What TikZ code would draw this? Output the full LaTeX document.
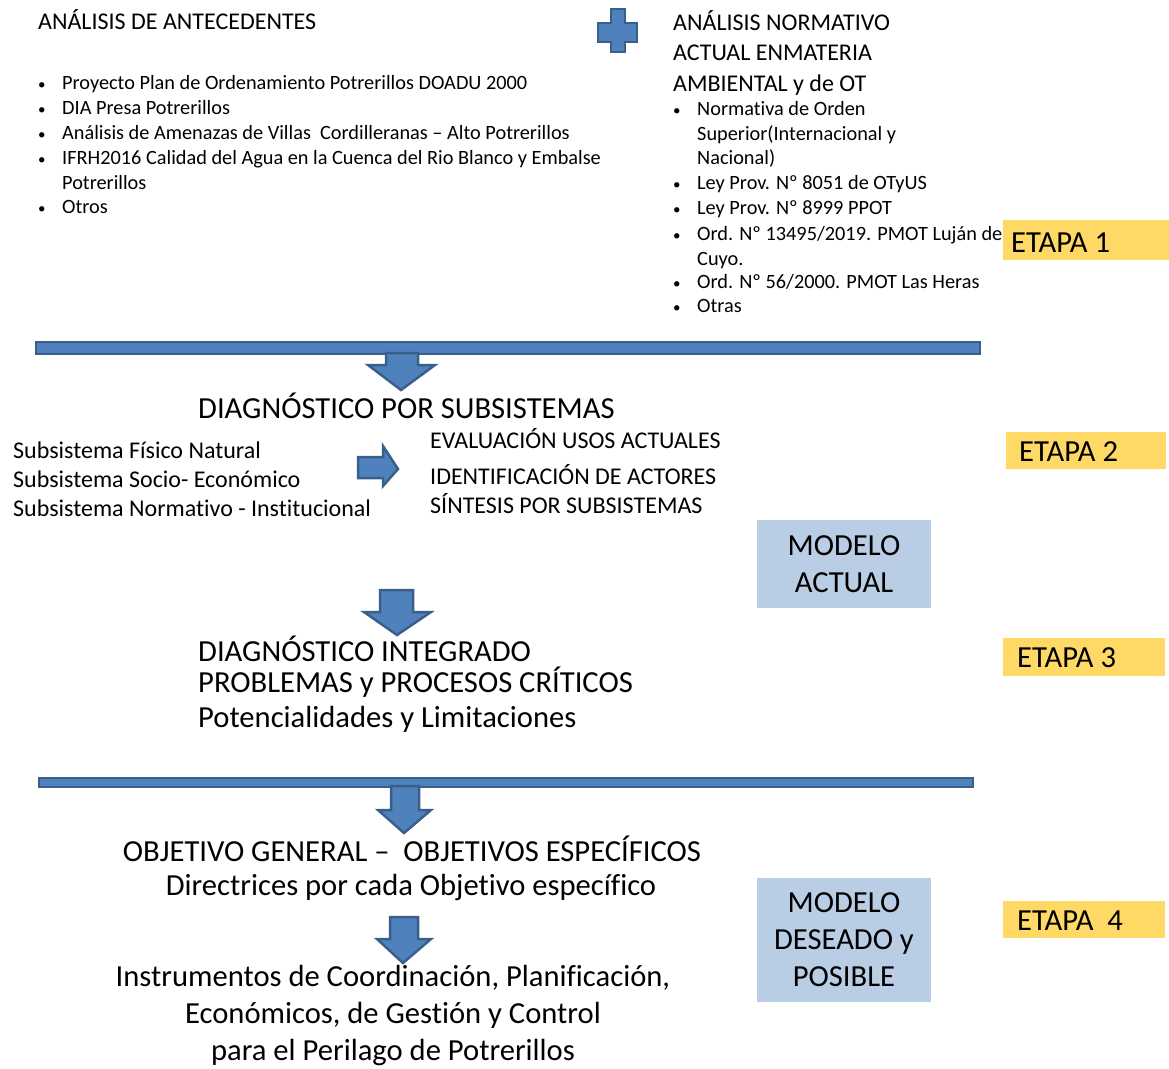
\documentclass[tikz,border=0pt]{standalone}
\usepackage{fontspec}
\setmainfont{Carlito}[Ligatures=NoCommon]
\definecolor{arrfill}{HTML}{4F81BD}
\definecolor{arrdraw}{HTML}{3A5F8B}
\definecolor{modfill}{HTML}{B9CDE5}
\definecolor{etfill}{HTML}{FFD966}
\begin{document}
\begin{tikzpicture}[x=1pt,y=-1pt,
  shp/.style={fill=arrfill,draw=arrdraw,line width=2.5pt,line join=miter},
  tx/.style={anchor=base west,inner sep=0pt,font=\fontsize{20.3}{22}\selectfont},
  bul/.style={anchor=base west,inner sep=0pt,font=\fontsize{15}{16}\selectfont},
  ttl/.style={anchor=base west,inner sep=0pt,font=\fontsize{24}{26}\selectfont},
  med/.style={anchor=base west,inner sep=0pt,font=\fontsize{24}{26}\selectfont},
  big/.style={anchor=base west,inner sep=0pt,font=\fontsize{30.6}{34}\selectfont},
  bigc/.style={anchor=base,inner sep=0pt,font=\fontsize{30.6}{34}\selectfont},
  etapa/.style={fill=etfill,draw=none},
  modelo/.style={fill=modfill,draw=none}]
\useasboundingbox (0,0) rectangle (1169,1068);
% ---------- ETAPA 1 left column
\node[ttl] (t1) at (38,29) {ANÁLISIS DE ANTECEDENTES};
\foreach \y/\t [count=\i] in {89/{Proyecto Plan de Ordenamiento Potrerillos DOADU 2000},
  114/{DIA Presa Potrerillos},
  139/{Análisis de Amenazas de Villas\ \ Cordilleranas – Alto Potrerillos},
  164/{IFRH2016 Calidad del Agua en la Cuenca del Rio Blanco y Embalse},
  213/{Otros}}{
  \node[bul] (lb\i) at (38,\y) {•};
  \node[tx] (l\i) at (62,\y) {\t};
}
\node[tx] (l4b) at (62,189) {Potrerillos};
% plus sign
\path[shp] (611,9) -- (625,9) -- (625,23) -- (637,23) -- (637,42) -- (625,42) -- (625,52)
  -- (611,52) -- (611,42) -- (598,42) -- (598,23) -- (611,23) -- cycle;
% right column
\node[ttl] (r1) at (673,30) {ANÁLISIS NORMATIVO};
\node[ttl] (r2) at (673,60) {ACTUAL ENMATERIA};
\node[ttl] (r3) at (673,91) {AMBIENTAL y de OT};
\foreach \y/\t [count=\i] in {115/{Normativa de Orden},
  189/{Ley Prov. Nº 8051 de OTyUS},
  214/{Ley Prov. Nº 8999 PPOT},
  240/{Ord. Nº 13495/2019. PMOT Luján de},
  288/{Ord. Nº 56/2000. PMOT Las Heras},
  312/{Otras}}{
  \node[bul] (rb\i) at (673,\y) {•};
  \node[tx] (rt\i) at (697,\y) {\t};
}
\node[tx] (rt1b) at (697,140) {Superior(Internacional y};
\node[tx] (rt1c) at (697,164) {Nacional)};
\node[tx] (rt4b) at (697,265) {Cuyo.};
\node[etapa,minimum width=166pt,minimum height=40pt,anchor=north west] (e1) at (1003,220) {};
\node[big,anchor=base west] (e1t) at (1011,252) {ETAPA 1};
% bar 1 and arrow
\path[shp] (36,342) rectangle (980,354);
\path[shp] (386,353) -- (418,353) -- (418,365) -- (435,365) -- (401,390) -- (368,365) -- (386,365) -- cycle;
% ---------- ETAPA 2
\node[big] (d1) at (198,418) {DIAGNÓSTICO POR SUBSISTEMAS};
\node[med] (s1) at (13,458) {Subsistema Físico Natural};
\node[med] (s2) at (13,487) {Subsistema Socio- Económico};
\node[med] (s3) at (13,516) {Subsistema Normativo - Institucional};
\path[shp] (358,457) -- (383,457) -- (383,446) -- (398,469) -- (383,486) -- (383,478) -- (358,478) -- cycle;
\node[med] (a1) at (430,448) {EVALUACIÓN USOS ACTUALES};
\node[med] (a2) at (430,484) {IDENTIFICACIÓN DE ACTORES};
\node[med] (a3) at (430,513) {SÍNTESIS POR SUBSISTEMAS};
\node[etapa,minimum width=160pt,minimum height=37pt,anchor=north west] (e2) at (1006,432) {};
\node[big] (e2t) at (1019,461) {ETAPA 2};
\node[modelo,minimum width=174pt,minimum height=88pt,anchor=north west] (m1) at (757,520) {};
\node[bigc] (m1a) at (844,555) {MODELO};
\node[bigc] (m1b) at (844,592) {ACTUAL};
% arrow 2
\path[shp] (380,590) -- (413,590) -- (413,612) -- (431,612) -- (397,635) -- (364,612) -- (380,612) -- cycle;
% ---------- ETAPA 3
\node[big] (g1) at (198,661) {DIAGNÓSTICO INTEGRADO};
\node[big] (g2) at (198,692) {PROBLEMAS y PROCESOS CRÍTICOS};
\node[big] (g3) at (198,727) {Potencialidades y Limitaciones};
\node[etapa,minimum width=162pt,minimum height=38pt,anchor=north west] (e3) at (1003,638) {};
\node[big] (e3t) at (1017,667) {ETAPA 3};
% bar 2 and arrow
\path[shp] (39,778) rectangle (973,787);
\path[shp] (391,786) -- (419,786) -- (419,810) -- (431,810) -- (404,833) -- (378,810) -- (391,810) -- cycle;
% ---------- ETAPA 4
\node[bigc] (o1) at (412,861) {OBJETIVO GENERAL –\ \ OBJETIVOS ESPECÍFICOS};
\node[bigc] (o2) at (411,895) {Directrices por cada Objetivo específico};
\path[shp] (390,917) -- (418,917) -- (418,939) -- (431,939) -- (403,963) -- (377,939) -- (390,939) -- cycle;
\node[bigc] (i1) at (393,986) {Instrumentos de Coordinación, Planificación,};
\node[bigc] (i2) at (393,1023) {Económicos, de Gestión y Control};
\node[bigc] (i3) at (393,1060) {para el Perilago de Potrerillos};
\node[modelo,minimum width=174pt,minimum height=124pt,anchor=north west] (m2) at (757,878) {};
\node[bigc] (m2a) at (844,912) {MODELO};
\node[bigc] (m2b) at (844,949) {DESEADO y};
\node[bigc] (m2c) at (844,986) {POSIBLE};
\node[etapa,minimum width=162pt,minimum height=37pt,anchor=north west] (e4) at (1003,901) {};
\node[big] (e4t) at (1017,930) {ETAPA\ \ 4};
\end{tikzpicture}
\end{document}
